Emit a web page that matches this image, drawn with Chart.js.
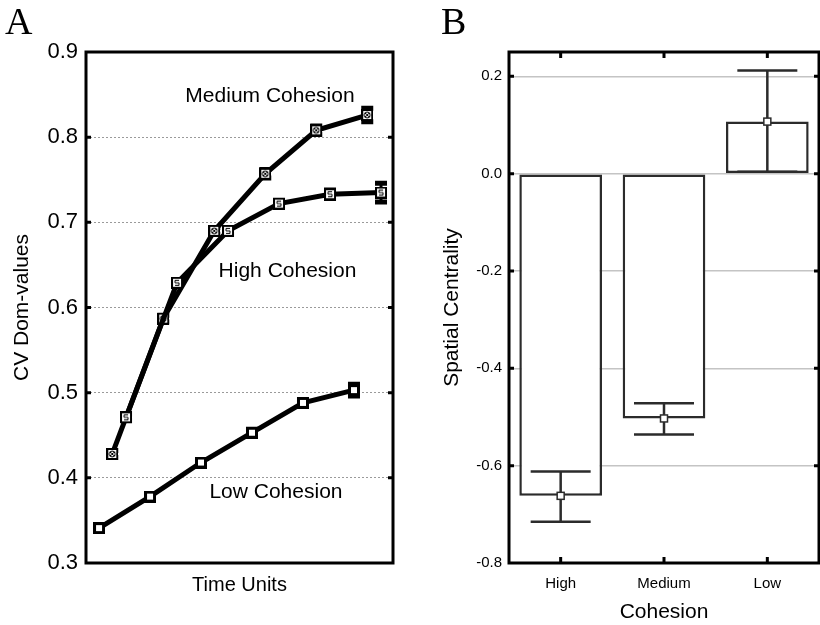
<!DOCTYPE html>
<html lang="en">
<head>
<meta charset="UTF-8">
<title>Cohesion: CV Dom-values and Spatial Centrality</title>
<script src="https://cdn.jsdelivr.net/npm/chart.js@4.4.1/dist/chart.umd.min.js"></script>
<style>
  body { margin: 0; background: #fff; }
  #wrap { position: relative; width: 820px; height: 625px; overflow: hidden; background: #fff; }
  canvas { position: absolute; top: 0; }
  .panel-letter {
    position: absolute; top: 2px;
    font-family: 'Liberation Serif', 'Times New Roman', serif;
    font-size: 38px; line-height: 38px; color: #000;
  }
</style>
</head>
<body>
<div id="wrap">
  <canvas id="chartA" width="410" height="625" style="left:0"></canvas>
  <canvas id="chartB" width="410" height="625" style="left:410px"></canvas>
  <div class="panel-letter" style="left:5px">A</div>
  <div class="panel-letter" style="left:441px">B</div>
</div>

<script>
// Panel A - CV of dominance values per time unit
const timeUnits = [1, 2, 3, 4, 5, 6];
const lowCohesion    = [0.341, 0.378, 0.418, 0.453, 0.488, 0.503];
const mediumCohesion = [0.428, 0.587, 0.690, 0.757, 0.808, 0.826];
const highCohesion   = [0.471, 0.629, 0.690, 0.722, 0.733, 0.735];
const lowErr    = [0.003, 0.003, 0.003, 0.004, 0.004, 0.007];
const mediumErr = [0.004, 0.004, 0.004, 0.005, 0.005, 0.008];
const highErr   = [0.004, 0.004, 0.004, 0.004, 0.005, 0.011];

// Panel B - spatial centrality by cohesion level (mean with error range)
const cohesionLevels = ['High', 'Medium', 'Low'];
const centrality     = [-0.662, -0.503, 0.107];
const centralityLow  = [-0.715, -0.536, 0.004];
const centralityHigh = [-0.612, -0.472, 0.212];

const SANS = "'Liberation Sans', Arial, sans-serif";
Chart.defaults.font.family = SANS;
Chart.defaults.color = '#000';

// little square markers like the original figure
function makeMarker(kind) {
    const c = document.createElement('canvas');
    c.width = 12; c.height = 12;
    const g = c.getContext('2d');
    g.fillStyle = '#000';
    g.fillRect(0, 0, 12, 12);
    g.fillStyle = '#fff';
    if (kind === 'low') {
        g.fillRect(3, 3, 6, 6);
        return c;
    }
    g.fillRect(2, 2, 8, 8);
    g.strokeStyle = '#000';
    g.lineWidth = 1;
    g.beginPath();
    if (kind === 'medium') {
        g.arc(6, 6, 3, 0, Math.PI * 2);
        g.moveTo(4, 4); g.lineTo(8, 8);
        g.moveTo(8, 4); g.lineTo(4, 8);
    } else {
        g.moveTo(8, 3.5); g.lineTo(4, 3.5); g.lineTo(4, 6);
        g.lineTo(8, 6); g.lineTo(8, 8.5); g.lineTo(4, 8.5);
    }
    g.stroke();
    return c;
}

// frame round the plot area plus small inward ticks
const framePlugin = {
    id: 'frame',
    afterDraw(chart, args, opts) {
        const {ctx, chartArea: ca} = chart;
        const y = chart.scales.y;
        ctx.save();
        ctx.strokeStyle = opts.color || '#000';
        ctx.lineWidth = 3;
        ctx.beginPath();
        y.ticks.forEach(t => {
            const py = y.getPixelForValue(t.value);
            if (py <= ca.top + 2 || py >= ca.bottom - 2) return;
            ctx.moveTo(ca.left, py); ctx.lineTo(ca.left + 5, py);
            ctx.moveTo(ca.right - 5, py); ctx.lineTo(ca.right, py);
        });
        if (opts.xTicks) {
            const x = chart.scales.x;
            x.ticks.forEach((t, i) => {
                const px = x.getPixelForTick(i);
                ctx.moveTo(px, ca.top); ctx.lineTo(px, ca.top + 6);
                ctx.moveTo(px, ca.bottom); ctx.lineTo(px, ca.bottom - 6);
            });
        }
        ctx.stroke();
        ctx.strokeRect(ca.left, ca.top, ca.right - ca.left, ca.bottom - ca.top);
        ctx.restore();
    }
};

// small error bars under the line markers (panel A)
const lineErrorPlugin = {
    id: 'lineErrors',
    beforeDatasetsDraw(chart) {
        const {ctx} = chart;
        const y = chart.scales.y;
        ctx.save();
        ctx.strokeStyle = '#000';
        chart.data.datasets.forEach((ds, di) => {
            const meta = chart.getDatasetMeta(di);
            meta.data.forEach((pt, i) => {
                const v = ds.data[i].y, e = ds.errors[i];
                const top = y.getPixelForValue(v + e), bot = y.getPixelForValue(v - e);
                ctx.lineWidth = 3;
                ctx.beginPath();
                ctx.moveTo(pt.x, top); ctx.lineTo(pt.x, bot);
                ctx.stroke();
                ctx.lineWidth = 5;
                ctx.beginPath();
                ctx.moveTo(pt.x - 6, top); ctx.lineTo(pt.x + 6, top);
                ctx.moveTo(pt.x - 6, bot); ctx.lineTo(pt.x + 6, bot);
                ctx.stroke();
            });
        });
        ctx.restore();
    }
};

// text labels next to the lines (panel A)
const seriesLabelPlugin = {
    id: 'seriesLabels',
    afterDatasetsDraw(chart, args, opts) {
        const {ctx} = chart;
        ctx.save();
        ctx.font = '21px ' + SANS;
        ctx.fillStyle = '#000';
        ctx.textAlign = 'center';
        ctx.textBaseline = 'middle';
        opts.items.forEach(it => {
            ctx.fillText(it.text, chart.scales.x.getPixelForValue(it.x), chart.scales.y.getPixelForValue(it.y));
        });
        ctx.restore();
    }
};

// error bars and mean markers on the bars (panel B)
const barErrorPlugin = {
    id: 'barErrors',
    afterDatasetsDraw(chart) {
        const {ctx} = chart;
        const y = chart.scales.y;
        const meta = chart.getDatasetMeta(0);
        ctx.save();
        ctx.strokeStyle = '#2b2b2b';
        ctx.lineWidth = 2.5;
        meta.data.forEach((bar, i) => {
            const top = y.getPixelForValue(centralityHigh[i]);
            const bot = y.getPixelForValue(centralityLow[i]);
            ctx.beginPath();
            ctx.moveTo(bar.x, top); ctx.lineTo(bar.x, bot);
            ctx.moveTo(bar.x - 30, top); ctx.lineTo(bar.x + 30, top);
            ctx.moveTo(bar.x - 30, bot); ctx.lineTo(bar.x + 30, bot);
            ctx.stroke();
            const my = y.getPixelForValue(centrality[i]);
            ctx.fillStyle = '#fff';
            ctx.lineWidth = 1.5;
            ctx.fillRect(bar.x - 3.5, my - 3.5, 7, 7);
            ctx.strokeRect(bar.x - 3.5, my - 3.5, 7, 7);
            ctx.lineWidth = 2.5;
        });
        ctx.restore();
    }
};

const lineSeries = (label, values, errors, shift, kind) => ({
    label: label,
    data: values.map((v, i) => ({x: timeUnits[i] + shift, y: v})),
    errors: errors,
    borderColor: '#000',
    borderWidth: 5,
    pointStyle: makeMarker(kind),
    pointRadius: 6,
    tension: 0
});

new Chart(document.getElementById('chartA'), {
    type: 'line',
    data: {
        datasets: [
            lineSeries('Low Cohesion', lowCohesion, lowErr, 0, 'low'),
            lineSeries('High Cohesion', highCohesion, highErr, 0.53, 'high'),
            lineSeries('Medium Cohesion', mediumCohesion, mediumErr, 0.26, 'medium')
        ]
    },
    options: {
        responsive: false,
        animation: false,
        devicePixelRatio: 1,
        layout: {padding: {top: 52, right: 17, left: 0, bottom: 0}},
        plugins: {
            legend: {display: false},
            tooltip: {enabled: false},
            seriesLabels: {
                items: [
                    {text: 'Medium Cohesion', x: 4.353, y: 0.848},
                    {text: 'High Cohesion', x: 4.696, y: 0.643},
                    {text: 'Low Cohesion', x: 4.47, y: 0.383}
                ]
            },
            frame: {color: '#000'}
        },
        scales: {
            x: {
                type: 'linear', min: 0.745, max: 6.765,
                grid: {display: false},
                border: {display: false},
                ticks: {display: false},
                title: {display: true, text: 'Time Units', font: {size: 20}, padding: {top: 0, bottom: 28}},
                afterFit: s => { s.height = 62; }
            },
            y: {
                min: 0.3, max: 0.9,
                ticks: {stepSize: 0.1, padding: 8, font: {size: 22}, callback: v => v.toFixed(1)},
                grid: {
                    drawTicks: false,
                    lineWidth: 1,
                    borderDash: [2, 2],
                    color: c => (c.tick && c.tick.value > 0.31 && c.tick.value < 0.89) ? '#9a9a9a' : 'transparent'
                },
                border: {display: false, dash: [2, 2]},
                title: {display: true, text: 'CV Dom-values', font: {size: 21}, padding: {top: 10, bottom: 0}},
                afterFit: s => { s.width = 86; }
            }
        }
    },
    plugins: [lineErrorPlugin, seriesLabelPlugin, framePlugin]
});

new Chart(document.getElementById('chartB'), {
    type: 'bar',
    data: {
        labels: cohesionLevels,
        datasets: [{
            data: centrality,
            backgroundColor: '#fff',
            borderColor: '#2b2b2b',
            borderWidth: 2.5,
            borderSkipped: false,
            barPercentage: 0.8,
            categoryPercentage: 1.0
        }]
    },
    options: {
        responsive: false,
        animation: false,
        devicePixelRatio: 1,
        layout: {padding: {top: 52, right: 1, left: 0, bottom: 0}},
        plugins: {
            legend: {display: false},
            tooltip: {enabled: false},
            frame: {color: '#000', xTicks: true}
        },
        scales: {
            x: {
                grid: {display: false},
                border: {display: false},
                ticks: {padding: 4, font: {size: 15}},
                title: {display: true, text: 'Cohesion', font: {size: 21}, padding: {top: 0, bottom: 0}},
                afterFit: s => { s.height = 62; }
            },
            y: {
                min: -0.8, max: 0.25,
                afterBuildTicks: s => { s.ticks = s.ticks.filter(t => t.value <= 0.2001); },
                ticks: {stepSize: 0.2, padding: 7, font: {size: 15}, callback: v => v.toFixed(1)},
                grid: {
                    drawTicks: false,
                    lineWidth: 1.5,
                    color: c => (c.tick && c.tick.value > -0.79) ? '#c4c4c4' : 'transparent'
                },
                border: {display: false},
                title: {display: true, text: 'Spatial Centrality', font: {size: 21}, padding: {top: 30, bottom: 0}},
                afterFit: s => { s.width = 99; }
            }
        }
    },
    plugins: [barErrorPlugin, framePlugin]
});
</script>
</body>
</html>
